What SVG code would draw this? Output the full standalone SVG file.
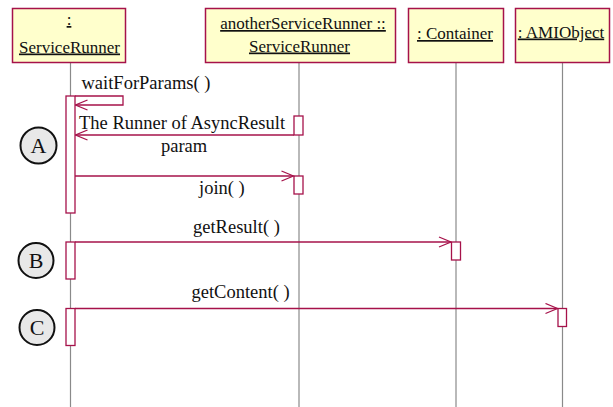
<svg xmlns="http://www.w3.org/2000/svg" width="613" height="407" viewBox="0 0 613 407">
  <defs>
    <style>
      .obj { fill: #ffffcc; stroke: #a6124a; stroke-width: 1.5; }
      .life { stroke: #8a8a8a; stroke-width: 1.2; fill: none; }
      .act { fill: #ffffff; stroke: #a6124a; stroke-width: 1.3; }
      .msg { stroke: #a6124a; stroke-width: 1.3; fill: none; }
      .head { stroke: #a6124a; stroke-width: 1.3; fill: none; }
      text { font-family: 'Liberation Serif', 'Times New Roman', Times, serif; fill: #111; }
      .olbl { font-size: 17px; text-decoration: underline; }
      .mlbl { font-size: 18.5px; }
      .mark { fill: #e8e8e8; stroke: #111; stroke-width: 2; }
      .mtxt { font-size: 22px; text-anchor: middle; }
    </style>
    <marker id="open" viewBox="0 0 14 12" refX="13" refY="6" markerWidth="14" markerHeight="12" markerUnits="userSpaceOnUse" orient="auto">
      <path d="M1,1 L13,6 L1,11" class="head"/>
    </marker>
  </defs>

  <!-- lifelines -->
  <g id="lifelines">
    <line class="life" x1="70.5" y1="62" x2="70.5" y2="407"/>
    <line class="life" x1="299" y1="62" x2="299" y2="407"/>
    <line class="life" x1="456" y1="62" x2="456" y2="407"/>
    <line class="life" x1="562.5" y1="62" x2="562.5" y2="407"/>
  </g>

  <!-- object boxes -->
  <g id="serviceRunner">
    <rect class="obj" x="12.5" y="8.5" width="113" height="54"/>
    <text class="olbl" x="69" y="25" text-anchor="middle">:</text>
    <text class="olbl" x="69.5" y="52.5" text-anchor="middle">ServiceRunner</text>
  </g>
  <g id="anotherServiceRunner">
    <rect class="obj" x="205.5" y="8.5" width="190" height="54"/>
    <text class="olbl" x="303" y="29" text-anchor="middle">anotherServiceRunner ::</text>
    <text class="olbl" x="299.5" y="51.5" text-anchor="middle">ServiceRunner</text>
  </g>
  <g id="container">
    <rect class="obj" x="408.5" y="8.5" width="95" height="54"/>
    <text class="olbl" x="455" y="39" text-anchor="middle">: Container</text>
  </g>
  <g id="amiObject">
    <rect class="obj" x="515.5" y="8.5" width="94" height="54"/>
    <text class="olbl" x="561" y="37.5" text-anchor="middle">: AMIObject</text>
  </g>

  <!-- activations -->
  <g id="activations">
    <rect class="act" x="66" y="96" width="9" height="117"/>
    <rect class="act" x="294" y="116" width="9" height="19"/>
    <rect class="act" x="294" y="176" width="9" height="18"/>
    <rect class="act" x="66" y="242" width="9" height="37"/>
    <rect class="act" x="451.5" y="242" width="9" height="18"/>
    <rect class="act" x="66" y="308.5" width="9" height="37"/>
    <rect class="act" x="558" y="308.5" width="8.5" height="18"/>
  </g>

  <!-- messages -->
  <g id="connectors">
    <path class="msg" d="M75,96 H123 V105 H75.5" marker-end="url(#open)"/>
    <line class="msg" x1="294" y1="135" x2="75.5" y2="135" marker-end="url(#open)"/>
    <line class="msg" x1="75" y1="176" x2="293.5" y2="176" marker-end="url(#open)"/>
    <line class="msg" x1="75" y1="242" x2="451" y2="242" marker-end="url(#open)"/>
    <line class="msg" x1="75" y1="308.5" x2="557.5" y2="308.5" marker-end="url(#open)"/>
  </g>

  <!-- message labels -->
  <g id="labels">
    <text class="mlbl" x="81.5" y="89">waitForParams( )</text>
    <text class="mlbl" x="79" y="129">The Runner of AsyncResult</text>
    <text class="mlbl" x="161" y="151.5">param</text>
    <text class="mlbl" x="199" y="193.5">join( )</text>
    <text class="mlbl" x="193" y="233">getResult( )</text>
    <text class="mlbl" x="191.5" y="298">getContent( )</text>
  </g>

  <!-- step markers -->
  <g id="markA">
    <circle class="mark" cx="38.5" cy="145.5" r="18"/>
    <text class="mtxt" x="38.5" y="153">A</text>
  </g>
  <g id="markB">
    <circle class="mark" cx="36" cy="260.5" r="17.5"/>
    <text class="mtxt" x="36" y="268">B</text>
  </g>
  <g id="markC">
    <circle class="mark" cx="37" cy="327.5" r="17.5"/>
    <text class="mtxt" x="37" y="335">C</text>
  </g>
</svg>
